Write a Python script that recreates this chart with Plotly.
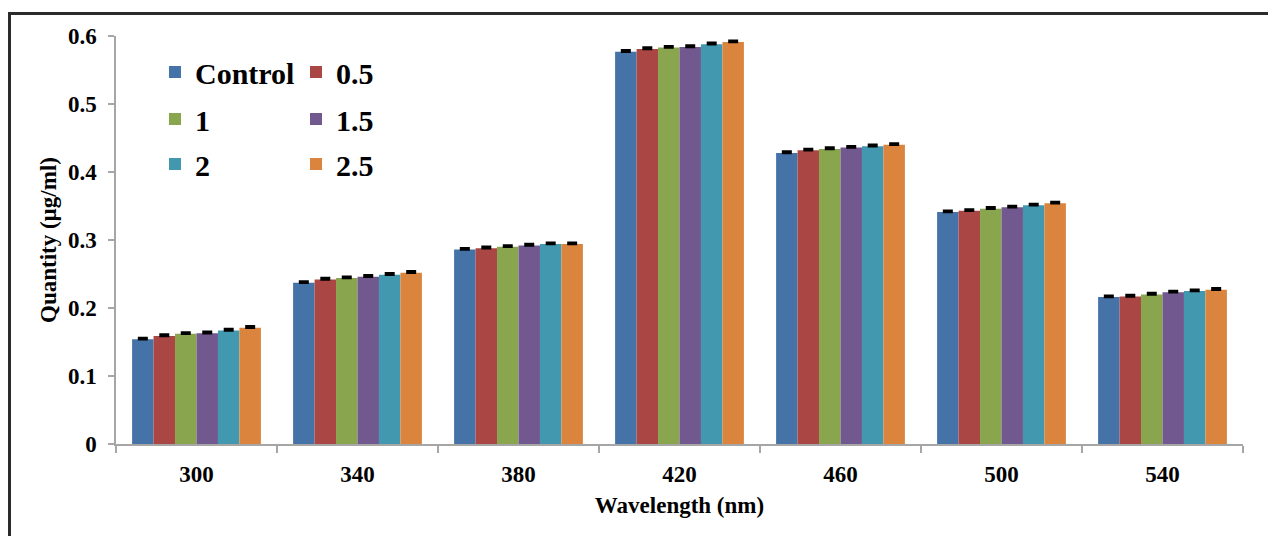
import plotly.graph_objects as go

wavelengths = ["300", "340", "380", "420", "460", "500", "540"]
series_names = ["Control", "0.5", "1", "1.5", "2", "2.5"]

control = [0.154, 0.237, 0.286, 0.577, 0.428, 0.341, 0.216]
conc_05 = [0.159, 0.242, 0.288, 0.581, 0.432, 0.343, 0.217]
conc_1 = [0.162, 0.244, 0.290, 0.583, 0.434, 0.346, 0.220]
conc_15 = [0.163, 0.246, 0.292, 0.584, 0.436, 0.348, 0.223]
conc_2 = [0.167, 0.249, 0.294, 0.588, 0.438, 0.351, 0.225]
conc_25 = [0.171, 0.252, 0.294, 0.591, 0.440, 0.354, 0.227]
error_up = [0.002, 0.002, 0.002, 0.002, 0.002, 0.002, 0.002]
error_down = [0, 0, 0, 0, 0, 0, 0]

all_values = [control, conc_05, conc_1, conc_15, conc_2, conc_25]
colors = ["#4572A7", "#AA4643", "#89A54E", "#71588F", "#4198AF", "#DB843D"]
legend_ids = ["legend", "legend", "legend2", "legend2", "legend3", "legend3"]

FONT = "Liberation Serif"

fig = go.Figure()
for name, vals, col, lg in zip(series_names, all_values, colors, legend_ids):
    fig.add_trace(go.Bar(
        x=wavelengths, y=vals, name=name,
        marker=dict(color=col, line=dict(width=0)),
        error_y=dict(type="data", symmetric=False, array=error_up,
                     arrayminus=error_down, visible=True,
                     color="black", thickness=2.5, width=5),
        legend=lg,
    ))

# page body has an 8px default margin; compensate so page coordinates match
OFF = 8
W, H = 1276 - OFF, 536 - OFF
L, R, T, B = 116 - OFF, 33, 36 - OFF, 92
pw, ph = W - L - R, H - T - B

def px2x(px):
    return (px - OFF - L) / pw

def py2y(py):
    return (H - B - (py - OFF)) / ph

legend_font = dict(family=FONT, size=30, color="black", weight="bold")
leg_common = dict(orientation="h", xanchor="left", yanchor="middle",
                  bgcolor="rgba(0,0,0,0)", font=legend_font,
                  entrywidth=96, entrywidthmode="pixels",
                  itemclick=False, itemdoubleclick=False)

frame_path = "M {x0},{y0} L {x0},{y1} L {x2},{y1}".format(
    x0=px2x(9.5), y0=py2y(545), y1=py2y(13.5), x2=px2x(1290))

fig.update_layout(
    width=W, height=H,
    margin=dict(l=L, r=R, t=T, b=B),
    paper_bgcolor="white", plot_bgcolor="white",
    barmode="group", bargap=0.2, bargroupgap=0,
    showlegend=True,
    legend=dict(x=px2x(155), y=py2y(72), **leg_common),
    legend2=dict(x=px2x(155), y=py2y(119), **leg_common),
    legend3=dict(x=px2x(155), y=py2y(164), **leg_common),
    font=dict(family=FONT, color="black"),
    xaxis=dict(
        type="category",
        showline=True, linecolor="#a6a6a6", linewidth=2,
        ticks="outside", tickson="boundaries", ticklen=7,
        tickcolor="#a6a6a6", tickwidth=1.5,
        tickfont=dict(family=FONT, size=23, color="black", weight="bold"),
        ticklabelstandoff=8,
        title=dict(text="Wavelength (nm)", standoff=11,
                   font=dict(family=FONT, size=23, color="black", weight="bold")),
        showgrid=False,
    ),
    yaxis=dict(
        range=[0, 0.6], dtick=0.1, tick0=0,
        showline=True, linecolor="#a6a6a6", linewidth=1.5,
        ticks="outside", ticklen=6, tickcolor="#a6a6a6", tickwidth=1.5,
        tickfont=dict(family=FONT, size=23, color="black", weight="bold"),
        ticklabelstandoff=7,
        title=dict(text="Quantity (µg/ml)", standoff=5,
                   font=dict(family=FONT, size=23, color="black", weight="bold")),
        showgrid=False, zeroline=False,
    ),
    shapes=[dict(type="path", xref="paper", yref="paper", path=frame_path,
                 line=dict(color="#2b2b2b", width=3), layer="above")],
)

fig.write_html("out.html")
